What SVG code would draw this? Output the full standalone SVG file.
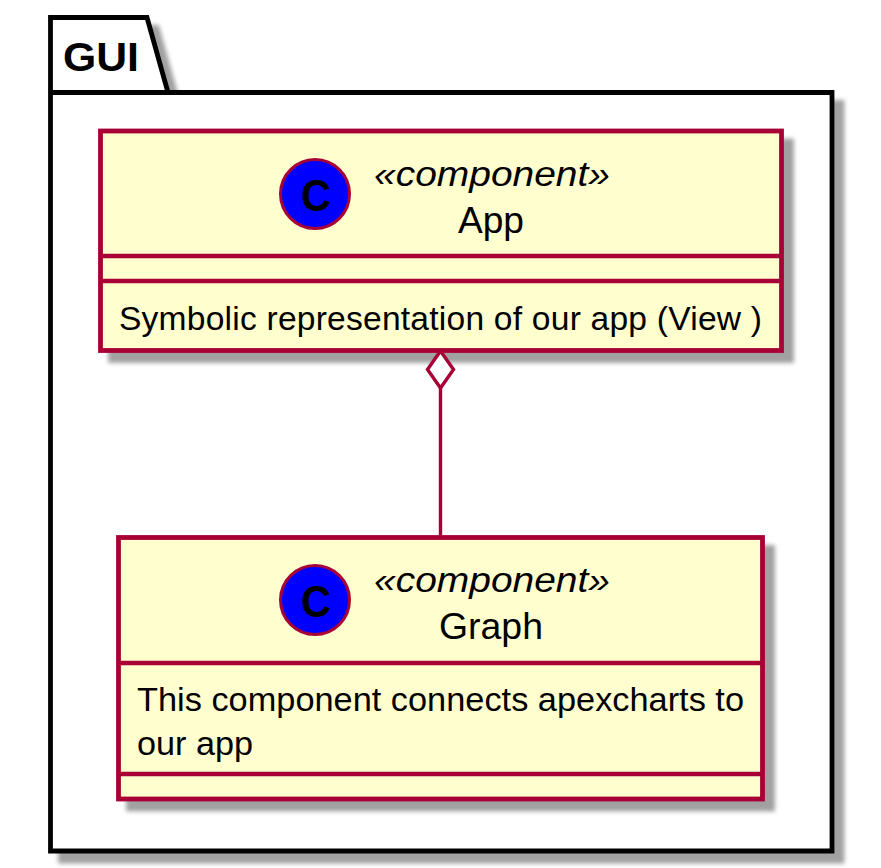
<svg xmlns="http://www.w3.org/2000/svg" width="881" height="868" viewBox="0 0 881 868">
<style>
text{font-family:"Liberation Sans",Arial,sans-serif;fill:#000}
.box{fill:#FEFECE;stroke:#A80036;stroke-width:4.8}
.div{stroke:#A80036;stroke-width:4.4;fill:none}
.spot{fill:#0000FF;stroke:#A80036;stroke-width:3}
.c{font-size:44px;font-weight:bold}
.st{font-size:35px;font-style:italic}
.nm{font-size:36px}
.body{font-size:33.6px}
.pkg{fill:#fff;stroke:#000;stroke-width:4.8}
</style>
<defs>
<filter id="sh" x="-10%" y="-10%" width="125%" height="125%" color-interpolation-filters="sRGB">
<feGaussianBlur in="SourceAlpha" stdDeviation="2.2"/>
<feOffset dx="9.500" dy="9.500"/>
<feColorMatrix type="matrix" values="0 0 0 0 0.63 0 0 0 0 0.63 0 0 0 0 0.63 0 0 0 1 0" result="s"/>
<feMerge><feMergeNode in="s"/><feMergeNode in="SourceGraphic"/></feMerge>
</filter>
</defs>
<g id="GUI">
<path class="pkg" filter="url(#sh)" d="M50.500 17.500H147L168 92.500H832V851H50.500Z"/>
<path d="M50.500 92.500H168" fill="none" stroke="#000" stroke-width="4.800"/>
<text x="63" y="71" font-size="41" font-weight="bold" textLength="76" lengthAdjust="spacingAndGlyphs">GUI</text>
</g>
<g id="App">
<rect class="box" filter="url(#sh)" x="100.500" y="131" width="681" height="219.500"/>
<circle class="spot" cx="315" cy="194" r="34.500"/>
<text class="c" x="301" y="211" textLength="30" lengthAdjust="spacingAndGlyphs">C</text>
<text class="st" x="374" y="186" textLength="236" lengthAdjust="spacingAndGlyphs">«component»</text>
<text class="nm" x="458" y="233" textLength="66" lengthAdjust="spacingAndGlyphs">App</text>
<path class="div" d="M100.500 256H781.500M100.500 281H781.500"/>
<text class="body" x="119" y="330" textLength="643" lengthAdjust="spacing">Symbolic representation of our app (View )</text>
</g>
<g id="Graph">
<rect class="box" filter="url(#sh)" x="118.500" y="537.500" width="644" height="261.500"/>
<circle class="spot" cx="315" cy="600" r="34.500"/>
<text class="c" x="301" y="617" textLength="30" lengthAdjust="spacingAndGlyphs">C</text>
<text class="st" x="374" y="592" textLength="236" lengthAdjust="spacingAndGlyphs">«component»</text>
<text class="nm" x="439" y="639" textLength="104" lengthAdjust="spacingAndGlyphs">Graph</text>
<path class="div" d="M118.500 663H762.500M118.500 774H762.500"/>
<text class="body" x="137" y="711" textLength="607" lengthAdjust="spacingAndGlyphs">This component connects apexcharts to</text>
<text class="body" x="137" y="755" textLength="116" lengthAdjust="spacingAndGlyphs">our app</text>
</g>
<g id="connectors">
<path d="M440.500 388V537" fill="none" stroke="#A80036" stroke-width="3.400"/>
<path d="M440.500 351L453.500 369.500L440.500 388L427.500 369.500Z" fill="#fff" stroke="#A80036" stroke-width="3.400"/>
</g>
</svg>
